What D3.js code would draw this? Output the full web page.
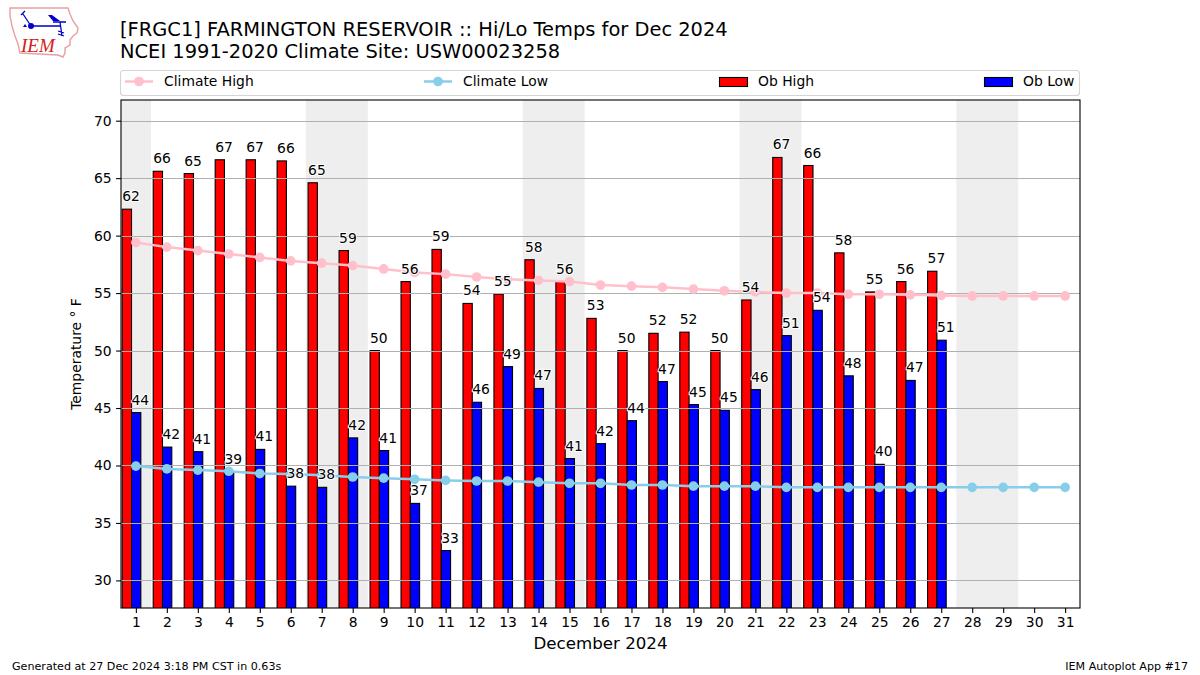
<!DOCTYPE html>
<html><head><meta charset="utf-8">
<script src="https://cdn.jsdelivr.net/npm/d3@7"></script>
<style>
html,body{margin:0;padding:0;background:#fff}
svg{display:block}
text{font-family:"DejaVu Sans",sans-serif;fill:#000}
</style></head><body>
<script>
const days = d3.range(1,32);
const obHigh = [62.3,65.6,65.4,66.6,66.6,66.5,64.6,58.7,50.0,56.0,58.8,54.1,54.9,57.9,56.0,52.8,50.0,51.5,51.6,50.0,54.4,66.8,66.1,58.5,55.1,56.0,56.9];
const obLow = [44.6,41.6,41.2,39.4,41.4,38.2,38.1,42.4,41.3,36.7,32.6,45.5,48.6,46.7,40.6,41.9,43.9,47.3,45.3,44.8,46.6,51.3,53.5,47.8,40.1,47.4,50.9];
const highLabels = [62,66,65,67,67,66,65,59,50,56,59,54,55,58,56,53,50,52,52,50,54,67,66,58,55,56,57];
const lowLabels = [44,42,41,39,41,38,38,42,41,37,33,46,49,47,41,42,44,47,45,45,46,51,54,48,40,47,51];
const climHigh = [59.4,59.0,58.7,58.4,58.1,57.8,57.6,57.4,57.1,56.8,56.65,56.4,56.2,56.1,56.0,55.7,55.6,55.5,55.35,55.2,55.1,55.0,55.0,54.9,54.9,54.85,54.8,54.75,54.75,54.75,54.75];
const climLow = [39.95,39.7,39.6,39.5,39.3,39.25,39.15,39.0,38.9,38.8,38.7,38.65,38.65,38.55,38.45,38.45,38.3,38.3,38.2,38.2,38.2,38.1,38.1,38.1,38.1,38.1,38.1,38.1,38.1,38.1,38.1];
const weekendSpans = [[0.5,1.5],[6.5,8.5],[13.5,15.5],[20.5,22.5],[27.5,29.5]];
const yTicks = [30,35,40,45,50,55,60,65,70];
const titleLines = ["[FRGC1] FARMINGTON RESERVOIR :: Hi/Lo Temps for Dec 2024","NCEI 1991-2020 Climate Site: USW00023258"];

const L=121,R=1080,T=100,B=608;
const svg=d3.select("body").append("svg").attr("width",1200).attr("height",675);
const x=d3.scaleLinear().domain([0.52,31.48]).range([L,R]);
const y=d3.scaleLinear().domain([27.6,71.8]).range([B,T]);
const barW=0.3, barOff=-0.14, shadeOff=-0.012;
const bw=x(barW)-x(0);

svg.append("defs").append("clipPath").attr("id","plot").append("rect").attr("x",L).attr("y",T).attr("width",R-L).attr("height",B-T);
const plot=svg.append("g").attr("clip-path","url(#plot)");

plot.selectAll(".shade").data(weekendSpans).join("rect")
 .attr("x",d=>x(d[0]+shadeOff)).attr("width",d=>x(d[1])-x(d[0])).attr("y",T).attr("height",B-T).attr("fill","#eeeeee");

function bars(vals,off,color){
 plot.append("g").selectAll("rect").data(vals).join("rect")
  .attr("x",(d,i)=>x(days[i]+barOff+off)).attr("width",bw)
  .attr("y",d=>y(d)).attr("height",d=>B+5-y(d))
  .attr("fill",color).attr("stroke","#000").attr("stroke-width",1.1);
}
bars(obHigh,-barW,"#ff0000");
bars(obLow,0,"#0000ff");

plot.append("g").selectAll("line").data(yTicks).join("line")
 .attr("x1",L).attr("x2",R).attr("y1",d=>Math.round(y(d))+.5).attr("y2",d=>Math.round(y(d))+.5)
 .attr("stroke","#b0b0b0").attr("stroke-width",1.1);

function clim(vals,color){
 const ln=d3.line().x((d,i)=>x(days[i])).y(d=>y(d));
 plot.append("path").attr("d",ln(vals)).attr("fill","none").attr("stroke",color).attr("stroke-width",2.5);
 plot.append("g").selectAll("circle").data(vals).join("circle")
  .attr("cx",(d,i)=>x(days[i])).attr("cy",d=>y(d)).attr("r",4.85).attr("fill",color);
}
clim(climHigh,"#ffc0cb");
clim(climLow,"#87ceeb");

function labels(vals,labs,off){
 svg.append("g").selectAll("text").data(vals).join("text")
  .attr("x",(d,i)=>x(days[i]+barOff+off)).attr("y",d=>y(d)-8)
  .attr("font-size",13.89).attr("text-anchor","start")
  .attr("stroke","#fff").attr("stroke-width",2).attr("paint-order","stroke")
  .text((d,i)=>labs[i]);
}
labels(obHigh,highLabels,-barW);
labels(obLow,lowLabels,0);

svg.append("rect").attr("x",L).attr("y",T).attr("width",R-L).attr("height",B-T).attr("fill","none").attr("stroke","#000").attr("stroke-width",1.1);

const xAxis=d3.axisBottom(x).tickValues(days).tickSize(4.9).tickPadding(4.5).tickFormat(d3.format("d"));
const yAxis=d3.axisLeft(y).tickValues(yTicks).tickSize(4.9).tickPadding(4.5).tickFormat(d3.format("d"));
[svg.append("g").attr("transform",`translate(0,${B})`).call(xAxis),
 svg.append("g").attr("transform",`translate(${L},0)`).call(yAxis)].forEach(g=>{
  g.select(".domain").remove();
  g.selectAll("line").attr("stroke","#000").attr("stroke-width",1.1);
  g.selectAll("text").attr("font-size",13.89).attr("font-family","DejaVu Sans").attr("fill","#000");
});

svg.append("text").attr("x",600.5).attr("y",649).attr("text-anchor","middle").attr("font-size",16.67).text("December 2024");
svg.append("text").attr("transform","translate(81,354) rotate(-90)").attr("text-anchor","middle").attr("font-size",13.89).text("Temperature \u00b0 F");

titleLines.forEach((t,i)=>svg.append("text").attr("x",120).attr("y",36+i*22).attr("font-size",19.44).text(t));

svg.append("text").attr("x",12).attr("y",670).attr("font-size",11.11).text("Generated at 27 Dec 2024 3:18 PM CST in 0.63s");
svg.append("text").attr("x",1188).attr("y",670).attr("text-anchor","end").attr("font-size",11.11).text("IEM Autoplot App #17");

// legend
const lg=svg.append("g");
lg.append("rect").attr("x",120.5).attr("y",70.5).attr("width",959).attr("height",25).attr("rx",3).attr("fill","#fff").attr("stroke","#d5d5d5").attr("stroke-width",1.1);
const legendItems=[
 {t:"Climate High",kind:"line",c:"#ffc0cb",hx:125,tx:164},
 {t:"Climate Low",kind:"line",c:"#87ceeb",hx:424,tx:463},
 {t:"Ob High",kind:"bar",c:"#ff0000",hx:719,tx:758},
 {t:"Ob Low",kind:"bar",c:"#0000ff",hx:984,tx:1023}];
legendItems.forEach(d=>{
 if(d.kind==="line"){
  lg.append("line").attr("x1",d.hx).attr("x2",d.hx+28).attr("y1",81.5).attr("y2",81.5).attr("stroke",d.c).attr("stroke-width",2.5);
  lg.append("circle").attr("cx",d.hx+14).attr("cy",81.5).attr("r",4.85).attr("fill",d.c);
 } else {
  lg.append("rect").attr("x",d.hx+.5).attr("y",77.5).attr("width",28).attr("height",9).attr("fill",d.c).attr("stroke","#000").attr("stroke-width",1.1);
 }
 lg.append("text").attr("x",d.tx).attr("y",86).attr("font-size",13.89).text(d.t);
});

// logo
const logo=svg.append("g");
logo.append("path").attr("d","M10 8 L68 8 L70 14 L73 21 L78 28 L77 33 L73 36 L70 40 L70 45 L65 48 L65 53 L63 57 L58 55 L20 53 L18 44 L15 36 L12 26 L10 16 Z")
 .attr("fill","#fff").attr("stroke","#e9a0a0").attr("stroke-width",1.4);
logo.append("path").attr("d","M31 26 L60 26 M31 26 L23 14 M21 15 L25 11 M53 22 L66 22 M60 22 L62 36 M58 31 L64 33 M58 34 L64 36")
 .attr("fill","none").attr("stroke","#0000c8").attr("stroke-width",1.3);
logo.append("path").attr("d","M48 15 L52 15 L60 21 L53 21 Z").attr("fill","#0000c8");
logo.append("path").attr("d","M23 27 L25 24 L27 27 Z").attr("fill","#0000c8");
logo.append("circle").attr("cx",31).attr("cy",26).attr("r",3).attr("fill","#0000c8");
logo.append("text").attr("x",21).attr("y",52).attr("font-size",19).attr("font-style","italic").style("font-family","Liberation Serif").style("fill","#d42020").text("IEM");
</script>
</body></html>
